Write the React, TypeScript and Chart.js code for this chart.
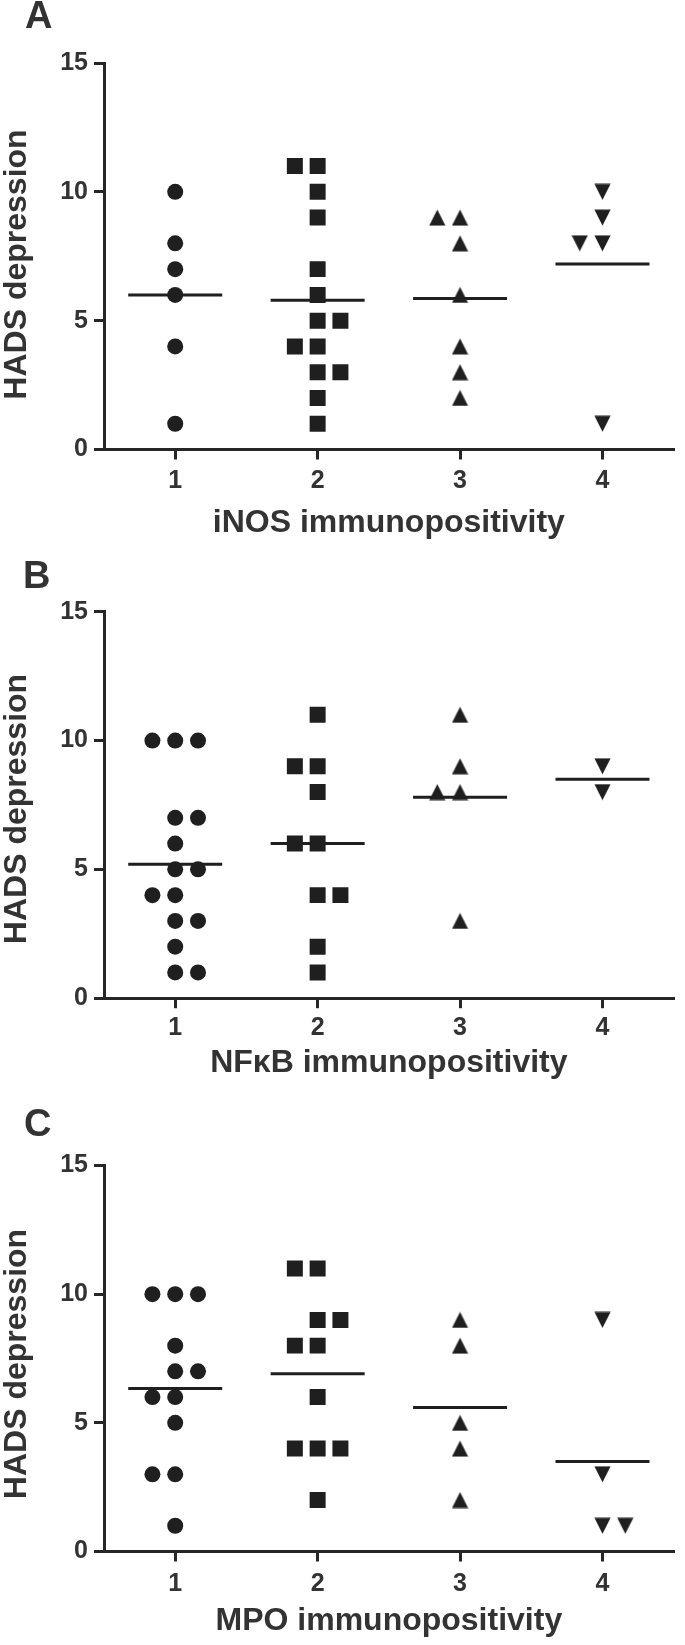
import React, { useEffect, useRef } from 'react';
import { Chart, registerables } from 'chart.js';

Chart.register(...registerables);

// ---------- data ----------
const categories = [1, 2, 3, 4];
const categoryLabels = ['1', '2', '3', '4'];
const yTickValues = [0, 5, 10, 15];
const yAxisTitle = 'HADS depression';

// Panel A – iNOS
const iNOSValues = [
  [10, 8, 7, 6, 4, 1],
  [11, 11, 10, 9, 7, 6, 5, 5, 4, 4, 3, 3, 2, 1],
  [9, 9, 8, 6, 4, 3, 2],
  [10, 9, 8, 8, 1],
];
// sub-column each point was plotted in (-1 left, 0 centre, 1 right)
const iNOSColumns = [
  [0, 0, 0, 0, 0, 0],
  [-1, 0, 0, 0, 0, 0, 0, 1, -1, 0, 0, 1, 0, 0],
  [-1, 0, 0, 0, 0, 0, 0],
  [0, 0, -1, 0, 0],
];
const iNOSMeans = [6.0, 5.79, 5.86, 7.2];

// Panel B – NFκB
const nfkbValues = [
  [10, 10, 10, 7, 7, 6, 5, 5, 4, 4, 3, 3, 2, 1, 1],
  [11, 9, 9, 8, 6, 6, 4, 4, 2, 1],
  [11, 9, 8, 8, 3],
  [9, 8],
];
const nfkbColumns = [
  [-1, 0, 1, 0, 1, 0, 0, 1, -1, 0, 0, 1, 0, 0, 1],
  [0, -1, 0, 0, -1, 0, 0, 1, 0, 0],
  [0, 0, -1, 0, 0],
  [0, 0],
];
const nfkbMeans = [5.2, 6.0, 7.8, 8.5];

// Panel C – MPO
const mpoValues = [
  [10, 10, 10, 8, 7, 7, 6, 6, 5, 3, 3, 1],
  [11, 11, 9, 9, 8, 8, 6, 4, 4, 4, 2],
  [9, 8, 5, 4, 2],
  [9, 3, 1, 1],
];
const mpoColumns = [
  [-1, 0, 1, 0, 0, 1, -1, 0, 0, -1, 0, 0],
  [-1, 0, 0, 1, -1, 0, 0, -1, 0, 1, 0],
  [0, 0, 0, 0, 0],
  [0, 0, 0, 1],
];
const mpoMeans = [6.33, 6.91, 5.6, 3.5];

// ---------- style / layout ----------
const FONT = '"Liberation Sans", Arial, Helvetica, sans-serif';
const MARK = '#1f1f1f';
const AXIS = '#262626';
const TEXT = '#333333';
const W = 685;
const H = 549;
const JITTER = 0.16;
const MEAN_HALF = 0.33;

type PanelDef = {
  letter: string;
  letterX: number;
  letterY: number;
  xTitle: string;
  values: number[][];
  columns: number[][];
  means: number[];
  top: number;
  areaTop: number;
  areaBottom: number;
  yTitleY: number;
  tickPad: number;
  xTitleY: number;
};

const PANELS: PanelDef[] = [
  {
    letter: 'A', letterX: 25, letterY: 17.5, xTitle: 'iNOS immunopositivity',
    values: iNOSValues, columns: iNOSColumns, means: iNOSMeans,
    top: 0, areaTop: 63, areaBottom: 449.5, yTitleY: 264.5, tickPad: 7, xTitleY: 522.7,
  },
  {
    letter: 'B', letterX: 23, letterY: 29, xTitle: 'NFκB immunopositivity',
    values: nfkbValues, columns: nfkbColumns, means: nfkbMeans,
    top: 549, areaTop: 62.7, areaBottom: 449.2, yTitleY: 260, tickPad: 5, xTitleY: 514,
  },
  {
    letter: 'C', letterX: 24, letterY: 30, xTitle: 'MPO immunopositivity',
    values: mpoValues, columns: mpoColumns, means: mpoMeans,
    top: 1096, areaTop: 69.5, areaBottom: 455.5, yTitleY: 268, tickPad: 8, xTitleY: 525.5,
  },
];

function makeTriangle(up: boolean): HTMLCanvasElement {
  const s = 17;
  const c = document.createElement('canvas');
  c.width = s;
  c.height = s;
  const g = c.getContext('2d') as CanvasRenderingContext2D;
  g.fillStyle = MARK;
  g.beginPath();
  if (up) {
    g.moveTo(s / 2, 0.5);
    g.lineTo(s - 0.4, s - 0.5);
    g.lineTo(0.4, s - 0.5);
  } else {
    g.moveTo(0.4, 0.5);
    g.lineTo(s - 0.4, 0.5);
    g.lineTo(s / 2, s - 0.5);
  }
  g.closePath();
  g.fill();
  return c;
}

function Panel({ p }: { p: PanelDef }) {
  const ref = useRef<HTMLCanvasElement | null>(null);

  useEffect(() => {
    const canvas = ref.current;
    if (!canvas) return;
    const triUp = makeTriangle(true);
    const triDown = makeTriangle(false);
    const styles: any[] = ['circle', 'rect', triUp, triDown];
    const radii = [8, 11.3, 8.5, 8.5];

    const pointSets = categories.map((cat, gi) => ({
      label: 'group ' + categoryLabels[gi],
      data: p.values[gi].map((v, i) => ({ x: cat + p.columns[gi][i] * JITTER, y: v })),
      pointStyle: styles[gi],
      pointRadius: radii[gi],
      pointHoverRadius: radii[gi],
      backgroundColor: MARK,
      borderColor: MARK,
      pointBorderWidth: 0,
      borderWidth: 0,
      showLine: false,
    }));

    const meanSets = categories.map((cat, gi) => ({
      label: 'mean ' + categoryLabels[gi],
      data: [
        { x: cat - MEAN_HALF, y: p.means[gi] },
        { x: cat + MEAN_HALF, y: p.means[gi] },
      ],
      showLine: true,
      borderColor: MARK,
      backgroundColor: MARK,
      borderWidth: 3,
      pointRadius: 0,
      pointHoverRadius: 0,
      fill: false,
    }));

    const tickFont = { family: FONT, size: 25, weight: 'bold' as const };
    const titleFont = { family: FONT, size: 32, weight: 'bold' as const, lineHeight: 1.2 };

    const textPlugin = {
      id: 'panelText',
      afterDraw(chart: any) {
        const ctx = chart.ctx as CanvasRenderingContext2D;
        ctx.save();
        ctx.fillStyle = TEXT;
        ctx.font = `bold 38px ${FONT}`;
        ctx.textAlign = 'left';
        ctx.textBaseline = 'middle';
        ctx.fillText(p.letter, p.letterX, p.letterY);
        ctx.font = `bold 32px ${FONT}`;
        ctx.translate(17, p.yTitleY);
        ctx.rotate(-Math.PI / 2);
        ctx.textAlign = 'center';
        ctx.textBaseline = 'middle';
        ctx.fillText(yAxisTitle, 0, 0);
        ctx.restore();
      },
    };

    const chart = new Chart(canvas, {
      type: 'scatter',
      data: { datasets: [...meanSets, ...pointSets] as any },
      options: {
        animation: false,
        responsive: false,
        events: [],
        layout: { padding: { top: p.areaTop, left: 0, right: 2, bottom: 0 } },
        plugins: {
          legend: { display: false },
          tooltip: { enabled: false },
          title: { display: false },
        },
        scales: {
          x: {
            type: 'linear',
            min: 0.5,
            max: 4.5,
            afterBuildTicks: (s: any) => {
              s.ticks = categories.map((v) => ({ value: v }));
            },
            afterFit: (s: any) => {
              s.height = H - p.areaBottom;
            },
            grid: {
              display: true,
              drawOnChartArea: false,
              drawTicks: true,
              tickLength: 10,
              tickWidth: 3,
              lineWidth: 3,
              tickColor: AXIS,
              color: AXIS,
            },
            border: { display: true, width: 3, color: AXIS },
            ticks: {
              font: tickFont,
              color: TEXT,
              padding: p.tickPad,
              maxRotation: 0,
              autoSkip: false,
              callback: (v: any) => categoryLabels[categories.indexOf(Number(v))] ?? '',
            },
            title: {
              display: true,
              text: p.xTitle,
              color: TEXT,
              font: titleFont,
              padding: { top: 0, bottom: H - 19.2 - p.xTitleY },
            },
          },
          y: {
            type: 'linear',
            min: 0,
            max: 15,
            afterBuildTicks: (s: any) => {
              s.ticks = yTickValues.map((v) => ({ value: v }));
            },
            afterFit: (s: any) => {
              s.width = 104;
            },
            grid: {
              display: true,
              drawOnChartArea: false,
              drawTicks: true,
              tickLength: 10,
              tickWidth: 3,
              lineWidth: 3,
              tickColor: AXIS,
              color: AXIS,
            },
            border: { display: true, width: 3, color: AXIS },
            ticks: {
              font: tickFont,
              color: TEXT,
              padding: 6,
              stepSize: 5,
            },
          },
        },
      } as any,
      plugins: [textPlugin],
    });

    return () => {
      chart.destroy();
    };
  }, [p]);

  return (
    <div style={{ position: 'absolute', left: 0, top: p.top, width: W, height: H }}>
      <canvas ref={ref} width={W} height={H} style={{ display: 'block' }} />
    </div>
  );
}

export default function App() {
  return (
    <div
      style={{
        position: 'absolute',
        left: 0,
        top: 0,
        width: W,
        height: 1645,
        background: '#ffffff',
        overflow: 'hidden',
      }}
    >
      {PANELS.map((p) => (
        <Panel key={p.letter} p={p} />
      ))}
    </div>
  );
}
